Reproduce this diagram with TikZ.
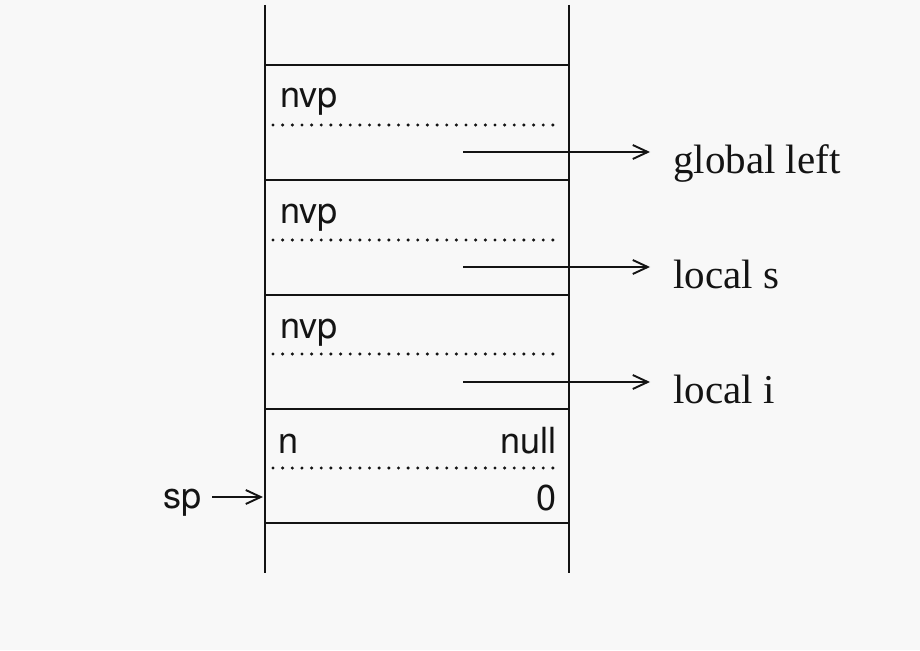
\documentclass[tikz,border=0pt]{standalone}
\usepackage{fontspec}
\setmainfont{Liberation Serif}
\setsansfont{TeX Gyre Heros}
\usetikzlibrary{arrows.meta}
\definecolor{paper}{RGB}{248,248,248}
\definecolor{ink}{RGB}{20,20,20}
\tikzset{
  wall/.style={line width=2.4pt, draw=ink},
  dotmark/.style={fill=ink},
  ptr/.style={line width=1.9pt, draw=ink, -{Straight Barb[length=15pt,width=14pt,line width=1.9pt]}},
  celltxt/.style={font=\sffamily\fontsize{36}{40}\selectfont, inner sep=0pt, text=ink},
  nametxt/.style={font=\fontsize{41}{46}\selectfont, inner sep=0pt, anchor=base west, text=ink},
}
\begin{document}
\begin{tikzpicture}[x=1pt,y=-1pt]
\fill[paper] (0,0) rectangle (920,650);
\useasboundingbox (0,0) rectangle (920,650);
% walls
\draw[wall] (265,5) -- (265,573);
\draw[wall] (569,5) -- (569,573);
% separators
\foreach \yy in {65,180,295,409,523} \draw[wall] (265,\yy) -- (569,\yy);
% dotted rules
\foreach \yy in {125,240,354,468}
  \foreach \k in {0,...,29} \fill[dotmark] (273+\k*9.65,\yy) circle (1.7pt);
% cell texts
\node[celltxt, anchor=base west] (nvp1) at (280,108) {nvp};
\node[celltxt, anchor=base west] (nvp2) at (280,223) {nvp};
\node[celltxt, anchor=base west] (nvp3) at (280,338) {nvp};
\node[celltxt, anchor=base west] (n) at (278,453) {n};
\node[celltxt, anchor=base east] (null) at (557,453) {null};
\node[celltxt, anchor=base east] (zero) at (557,510) {0};
\node[celltxt, anchor=base east] (sp) at (202,508) {sp};
% names
\node[nametxt] (gl) at (673,173) {global left};
\node[nametxt] (ls) at (673,288) {local s};
\node[nametxt] (li) at (673,403) {local i};
% pointers
\coordinate (s1) at (463,152); \coordinate (e1) at (650,152);
\coordinate (s2) at (463,267); \coordinate (e2) at (650,267);
\coordinate (s3) at (463,382); \coordinate (e3) at (650,382);
\draw[ptr] (s1) -- (e1);
\draw[ptr] (s2) -- (e2);
\draw[ptr] (s3) -- (e3);
\coordinate (spend) at (263,497);
\draw[ptr] (sp.east |- spend) ++(10,0) -- (spend);
\end{tikzpicture}
\end{document}
